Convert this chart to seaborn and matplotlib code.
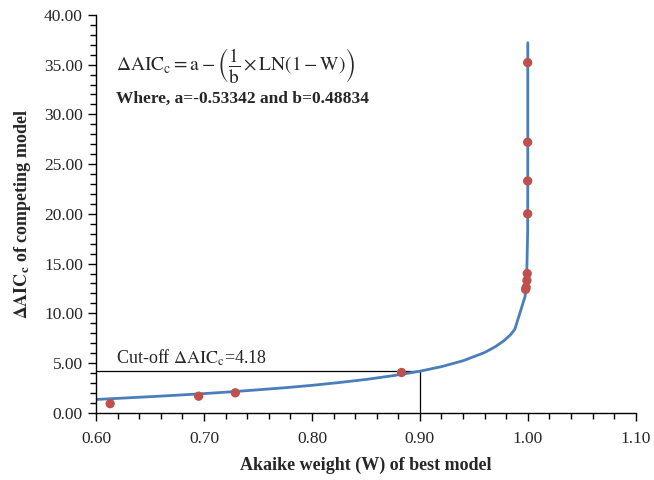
import numpy as np
import pandas as pd
import matplotlib
matplotlib.use("Agg")
import matplotlib.pyplot as plt
from matplotlib.ticker import MultipleLocator, FormatStrFormatter
import seaborn as sns

# fitted curve
curve_w = [0.60, 0.625, 0.65, 0.675, 0.70, 0.725, 0.75, 0.775, 0.80, 0.825, 0.85,
           0.875, 0.90, 0.92, 0.94, 0.96, 0.97, 0.978, 0.984, 0.988, 0.9975, 0.999, 0.9999,
           0.99999, 0.999999, 0.9999999, 0.99999999]
curve_daic = [1.34, 1.48, 1.62, 1.77, 1.93, 2.11, 2.31, 2.52, 2.76, 3.04, 3.35,
              3.73, 4.18, 4.64, 5.23, 6.06, 6.65, 7.25, 7.85, 8.40, 11.7, 13.6, 18.3,
              23.0, 27.8, 32.5, 37.2]

# observed models
obs_w = [0.613, 0.695, 0.729, 0.883, 0.998, 0.9985, 0.9992, 0.9995,
         0.9999, 0.9999, 0.9999, 0.9999]
obs_daic = [0.92, 1.67, 2.01, 4.05, 12.4, 12.6, 13.3, 14.0,
            20.0, 23.3, 27.2, 35.2]

cutoff_w = 0.90
cutoff_daic = 4.18

curve = pd.DataFrame({"W": curve_w, "dAIC": curve_daic})
obs = pd.DataFrame({"W": obs_w, "dAIC": obs_daic})

sns.set_style("ticks")
plt.rcParams["font.family"] = ["Liberation Serif", "DejaVu Serif"]
plt.rcParams["mathtext.fontset"] = "stix"

fig, ax = plt.subplots(figsize=(6.54, 4.8), dpi=100)
fig.subplots_adjust(left=0.147, right=0.972, top=0.969, bottom=0.140)

# cut-off guide lines
ax.plot([0.60, cutoff_w], [cutoff_daic, cutoff_daic], color="black", lw=0.9, zorder=1)
ax.plot([cutoff_w, cutoff_w], [0, cutoff_daic], color="black", lw=0.9, zorder=1)

sns.lineplot(data=curve, x="W", y="dAIC", sort=False, color="#4A7EBB", lw=2, ax=ax, zorder=2)
sns.scatterplot(data=obs, x="W", y="dAIC", color="#C0504D", s=45, edgecolor="none",
                ax=ax, zorder=3)

ax.set_xlim(0.60, 1.10)
ax.set_ylim(0, 40)
ax.xaxis.set_major_locator(MultipleLocator(0.1))
ax.xaxis.set_minor_locator(MultipleLocator(0.02))
ax.yaxis.set_major_locator(MultipleLocator(5))
ax.yaxis.set_minor_locator(MultipleLocator(1))
ax.xaxis.set_major_formatter(FormatStrFormatter("%.2f"))
ax.yaxis.set_major_formatter(FormatStrFormatter("%.2f"))
ax.tick_params(which="major", length=6, width=1, color="black", labelsize=12.5)
ax.tick_params(which="minor", length=4, width=1, color="black")
ax.tick_params(axis="x", which="major", pad=7)
for s in ["top", "right"]:
    ax.spines[s].set_visible(False)
for s in ["left", "bottom"]:
    ax.spines[s].set_color("black")
    ax.spines[s].set_linewidth(1)

ax.set_xlabel("Akaike weight (W) of best model", fontsize=13, fontweight="bold", labelpad=7)
ax.set_ylabel(r"$\mathbf{\Delta AIC_c}$ of competing model", fontsize=13,
              fontweight="bold", labelpad=8)

ax.text(0.618, 34.9,
        r"$\Delta\mathrm{AIC_c} = \mathrm{a} - \left(\dfrac{1}{\mathrm{b}} \times \mathrm{LN}(1 - \mathrm{W})\right)$",
        fontsize=14, va="center", ha="left")
ax.text(0.618, 31.6, "Where, a=-0.53342 and b=0.48834", fontsize=12.5,
        fontweight="bold", va="center", ha="left")
ax.text(0.618, 4.55, r"Cut-off $\Delta\mathrm{AIC_c}$=4.18", fontsize=13,
        va="bottom", ha="left")

fig.savefig("out.png", dpi=100)
